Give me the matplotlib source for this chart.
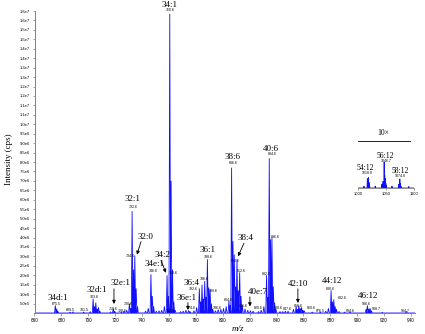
import matplotlib
matplotlib.use("Agg")
import matplotlib.pyplot as plt
import numpy as np
from decimal import Decimal, ROUND_HALF_UP

# ---------------- data ----------------
# main spectrum: peak m/z and intensity (x1e6 cps)
peak_mz = [675.5, 676.5, 677.5, 686.5, 688.5, 696.5, 701.5, 703.6, 704.6, 705.6,
           706.6, 707.6, 708.6, 716.6, 718.6, 719.6, 724.6, 726.6, 728.6, 730.6,
           731.6, 732.6, 733.6, 734.6, 735.6, 736.6, 742.6, 744.6, 746.6, 747.6,
           748.6, 750.6, 752.6, 754.6, 756.6, 758.6, 759.6, 760.6, 761.6, 762.6,
           763.6, 764.6, 768.6, 770.6, 772.6, 774.6, 775.6, 778.6, 780.6, 782.6,
           783.6, 784.6, 785.6, 786.6, 787.6, 788.6, 789.6, 790.6, 791.6, 792.6,
           794.6, 796.6, 798.6, 800.6, 802.6, 804.6, 805.6, 806.6, 807.6, 808.6,
           809.6, 810.6, 811.6, 812.6, 813.6, 814.6, 816.6, 818.6, 820.6, 822.6,
           826.6, 828.6, 830.6, 832.6, 833.6, 834.6, 835.6, 836.6, 837.6, 838.6,
           839.6, 842.6, 844.6, 846.6, 848.6, 852.6, 854.6, 855.6, 856.6, 857.6,
           858.6, 859.6, 860.6, 866.6, 872.6, 876.6, 878.6, 880.6, 881.6, 882.6,
           883.6, 884.6, 886.6, 890.6, 894.6, 906.6, 907.6, 908.6, 909.6, 910.6,
           918.6, 936.6]
peak_int = [0.40, 0.22, 0.08, 0.05, 0.06, 0.05, 0.07, 0.75, 0.35, 0.55,
            0.22, 0.30, 0.10, 0.06, 0.22, 0.10, 0.06, 0.10, 0.15, 0.50,
            0.25, 5.40, 2.30, 3.05, 1.30, 0.35, 0.10, 0.25, 2.05, 0.90,
            0.35, 0.10, 0.12, 0.15, 0.35, 2.00, 0.90, 15.85, 7.00, 2.30,
            0.60, 0.15, 0.08, 0.10, 0.15, 0.13, 0.08, 0.12, 0.30, 1.30,
            0.60, 1.50, 0.75, 1.70, 0.85, 2.85, 1.35, 1.25, 0.50, 0.20,
            0.12, 0.18, 0.20, 0.25, 0.35, 0.65, 0.40, 7.70, 3.80, 3.10,
            1.40, 2.85, 1.20, 2.15, 0.90, 0.40, 0.22, 0.15, 0.12, 0.10,
            0.08, 0.15, 0.35, 2.00, 0.85, 8.20, 3.90, 4.00, 1.40, 0.55,
            0.20, 0.08, 0.08, 0.10, 0.10, 0.20, 0.35, 0.20, 0.40, 0.25,
            0.30, 0.15, 0.12, 0.05, 0.05, 0.10, 0.25, 1.20, 0.60, 0.72,
            0.35, 0.20, 0.08, 0.05, 0.05, 0.20, 0.40, 0.22, 0.25, 0.12,
            0.03, 0.08]

# inset (10x) spectrum: m/z and intensity (x1e6 cps)
inset_mz = [1010.7, 1016.7, 1018.7, 1019.7, 1020.7, 1030.7, 1042.7, 1044.7, 1046.7,
            1047.7, 1048.7, 1049.7, 1050.7, 1060.7, 1072.7, 1074.7, 1075.7, 1076.7,
            1090.7]
inset_int = [0.010, 0.050, 0.055, 0.030, 0.015, 0.010, 0.020, 0.035, 0.138,
             0.070, 0.050, 0.025, 0.012, 0.010, 0.020, 0.048, 0.025, 0.010,
             0.008]

# x tick labels
x_ticks = [660, 680, 700, 720, 740, 760, 780, 800, 820, 840, 860, 880, 900, 920, 940]
inset_ticks = [1000, 1050, 1100]

# lipid species labels (text, label x, label y[1e6])
lipid_names = ["34:1", "32:1", "38:6", "40:6", "36:1", "32:0", "34:2", "34e:1",
               "36:4", "36e:1", "38:4", "40e:7", "42:10", "44:12", "46:12",
               "34d:1", "32d:1", "32e:1"]
lipid_x = [760.7, 733.2, 807.6, 835.8, 789.0, 742.2, 754.8, 749.6,
           777.1, 773.4, 817.0, 826.0, 855.9, 881.2, 907.9,
           677.5, 706.5, 724.3]
lipid_y = [16.33, 6.06, 8.25, 8.70, 3.35, 4.04, 3.09, 2.61,
           1.60, 0.80, 3.95, 1.10, 1.54, 1.70, 0.90,
           0.80, 1.22, 1.60]

# arrows (start x, start y, end x, end y) in data units
arrow_sx = [739.2, 754.1, 774.1, 815.8, 820.2, 855.9, 719.1]
arrow_sy = [3.78, 2.77, 0.55, 3.70, 0.85, 1.28, 1.28]
arrow_ex = [736.2, 757.8, 774.1, 811.4, 820.2, 855.9, 719.1]
arrow_ey = [3.09, 2.13, 0.16, 3.00, 0.35, 0.53, 0.48]

# small m/z peak labels
mz_labels = ["760.6", "732.6", "806.6", "834.6", "788.6", "734.6", "758.6", "746.6",
             "782.6", "786.6", "790.6", "774.6", "810.6", "812.6", "804.6", "820.6",
             "832.6", "836.6", "856.6", "880.6", "882.6", "906.6", "908.7", "675.5",
             "703.6", "718.6", "730.6", "689.5", "701.5", "728.6", "752.5", "796.6",
             "816.6", "838.6", "847.6", "860.6", "876.5", "894.6", "934.7"]
mz_label_x = [760.7, 733.2, 807.6, 836.6, 789.0, 731.0, 763.0, 748.1,
              777.8, 786.0, 792.7, 776.4, 809.1, 813.5, 803.9, 826.2,
              832.8, 838.8, 855.9, 879.7, 888.6, 907.2, 914.6, 676.0,
              704.2, 718.4, 729.5, 686.4, 696.8, 725.1, 760.7, 795.7,
              815.0, 841.0, 847.7, 865.6, 872.3, 894.6, 936.2]
mz_label_y = [16.06, 5.59, 7.93, 8.40, 2.98, 3.03, 2.13, 2.23,
              1.28, 1.80, 1.15, 0.27, 2.75, 2.25, 0.70, 0.25,
              2.05, 4.05, 0.37, 1.28, 0.80, 0.48, 0.21, 0.48,
              0.85, 0.21, 0.48, 0.16, 0.16, 0.11, 0.11, 0.27,
              0.37, 0.27, 0.21, 0.27, 0.10, 0.10, 0.10]

# inset labels
inset_names = ["54:12", "56:12", "58:12"]
inset_name_x = [1012.5, 1048.2, 1075.0]
inset_name_y = [0.106, 0.170, 0.090]
inset_sub = ["1018.8", "1046.7", "1074.8"]
inset_sub_x = [1016.1, 1050.0, 1075.0]
inset_sub_y = [0.080, 0.144, 0.064]

# ---------------- drawing ----------------
SERIF = "Liberation Serif"
SANS = "Liberation Sans"
BLUE = "#1010ff"
SCALE = 1e6


def profile(mz, inten, lo, hi, w):
    order = np.argsort(mz)
    xs, ys = [lo], [0.0]
    for i in order:
        xs += [mz[i] - w, mz[i], mz[i] + w]
        ys += [0.0, inten[i] * SCALE, 0.0]
    xs.append(hi)
    ys.append(0.0)
    return xs, ys


def sci_label(v):
    if v == 0:
        return "0.0"
    e = int(np.floor(np.log10(v)))
    m = Decimal(str(v / 10 ** e)).quantize(Decimal("0.1"), rounding=ROUND_HALF_UP)
    if m >= 10:
        m = m / 10
        e += 1
    return f"{m}e{e}"


fig = plt.figure(figsize=(4.25, 3.34), dpi=100)
ax = fig.add_axes([34.5 / 425, 21 / 334, 380.5 / 425, 302 / 334])

xs, ys = profile(peak_mz, peak_int, 660, 943, 0.6)
ax.plot(xs, ys, color=BLUE, lw=0.6, solid_joinstyle="miter")
ax.set_xlim(660, 943)
ax.set_ylim(0, 1.6e7)

for s in ["top", "right"]:
    ax.spines[s].set_visible(False)
for s in ["left", "bottom"]:
    ax.spines[s].set_color("#808080")
    ax.spines[s].set_linewidth(0.7)

ax.set_xticks(x_ticks)
ax.set_xticklabels([str(t) for t in x_ticks], fontsize=3.3, family=SANS)
yt = [5e5 * k for k in range(1, 33)]
ax.set_yticks(yt)
ax.set_yticklabels([sci_label(v) for v in yt], fontsize=3.0, family=SANS)
ax.tick_params(axis="both", length=1.8, width=0.5, color="#808080", pad=1.5)

for name, x, y in zip(lipid_names, lipid_x, lipid_y):
    ax.text(x, y * SCALE, name, fontsize=6.5, family=SERIF, ha="center", va="center")

for sx, sy, ex, ey in zip(arrow_sx, arrow_sy, arrow_ex, arrow_ey):
    ax.annotate("", xy=(ex, ey * SCALE), xytext=(sx, sy * SCALE),
                arrowprops=dict(arrowstyle="-|>", color="black", lw=0.6,
                                mutation_scale=5, shrinkA=0, shrinkB=0))

for t, x, y in zip(mz_labels, mz_label_x, mz_label_y):
    ax.text(x, y * SCALE, t, fontsize=2.6, family=SANS, ha="center", va="center")

fig.text(9 / 425, (334 - 159) / 334, "Intensity (cps)", rotation=90, fontsize=6.5,
         family=SERIF, ha="center", va="center")
fig.text(238 / 425, (334 - 329) / 334, "m/z", fontsize=6.5, family=SERIF,
         style="italic", ha="center", va="center")

# inset
axi = fig.add_axes([358 / 425, (334 - 188) / 334, 56 / 425, 47 / 334])
xi, yi = profile(inset_mz, inset_int, 1000, 1100, 0.6)
axi.plot(xi, yi, color=BLUE, lw=0.6)
axi.set_xlim(1000, 1100)
axi.set_ylim(0, 0.25e6)
for s in ["top", "right", "left"]:
    axi.spines[s].set_visible(False)
axi.spines["bottom"].set_color("#808080")
axi.spines["bottom"].set_linewidth(0.6)
axi.set_yticks([])
axi.set_xticks(inset_ticks)
axi.set_xticklabels([str(t) for t in inset_ticks], fontsize=3.0, family=SANS)
axi.tick_params(axis="x", length=1.5, width=0.5, color="#808080", pad=1.5)
axi.patch.set_alpha(0)
axi.plot([0, 0.93], [1, 1], transform=axi.transAxes, color="black", lw=0.6,
         clip_on=False)
axi.text(0.45, 1.17, "10×", transform=axi.transAxes, fontsize=5.5, family=SERIF,
         ha="center", va="center")
for name, x, y in zip(inset_names, inset_name_x, inset_name_y):
    axi.text(x, y * SCALE, name, fontsize=5.5, family=SERIF, ha="center", va="center")
for t, x, y in zip(inset_sub, inset_sub_x, inset_sub_y):
    axi.text(x, y * SCALE, t, fontsize=2.5, family=SANS, ha="center", va="center")

fig.savefig("out.png", dpi=100)
